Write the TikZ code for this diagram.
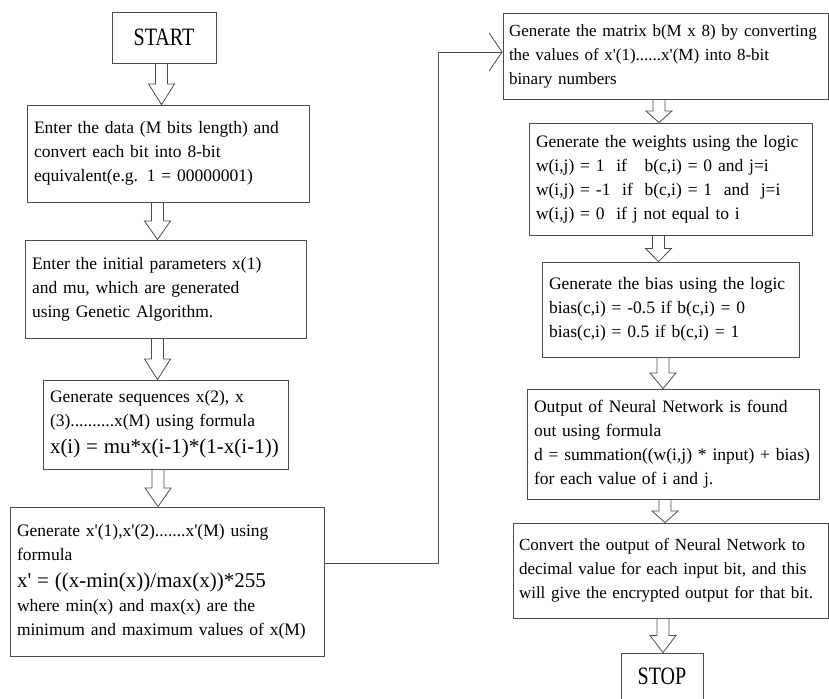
\documentclass[tikz,border=0pt]{standalone}
\usepackage{fontspec}
\setmainfont{Liberation Serif}[Ligatures=TeXOff]
\newfontfamily\termfont{Liberation Serif}[FakeStretch=0.8]
\usetikzlibrary{arrows.meta, calc}

\tikzset{
  stage/.style={draw=black!70, line width=0.8pt, align=left, inner xsep=7pt,
    font=\fontsize{17.5}{24}\selectfont},
  widestage/.style={stage, inner xsep=6pt, font=\fontsize{17}{24}\selectfont},
  terminal/.style={draw=black!70, line width=0.8pt, font=\termfont\fontsize{25}{30}\selectfont},
  blockarrow/.style={draw=black!70, line width=0.8pt,
    to path={let \p1=(\tikztostart), \p2=(\tikztotarget), \p3=($(\p1)!0.5!(\p2)$) in
      (\x1-6pt,\y1) -- (\x1-6pt,\y3) -- (\x1-13pt,\y3) -- (\x1,\y2)
      -- (\x1+13pt,\y3) -- (\x1+6pt,\y3) -- (\x1+6pt,\y1)}},
  link/.style={draw=black!70, line width=0.8pt, -{Straight Barb[length=13pt,width=38pt]}}
}
\newcommand{\formula}[1]{{\fontsize{21}{28}\selectfont #1}}

\begin{document}
\begin{tikzpicture}[x=1pt, y=-1pt]
\useasboundingbox (0,0) rectangle (829,698);

% left column
\node[terminal, minimum width=104, minimum height=51] (start) at (164,37.5) {START};
\node[stage, minimum width=282, minimum height=97, text width=268] (data) at (168,153.5)
  {Enter the data (M bits length) and\\ convert each bit into 8-bit\\ equivalent(e.g. 1 = 00000001)};
\node[stage, minimum width=281, minimum height=98, text width=267] (param) at (165.5,289)
  {Enter the initial parameters x(1)\\ and mu, which are generated\\ using Genetic Algorithm.};
\node[stage, minimum width=245, minimum height=89, text width=231] (seq) at (165.5,424.5)
  {Generate sequences x(2), x\\ (3)..........x(M) using formula\\[3pt] \formula{x(i) = mu*x(i-1)*(1-x(i-1))}};
\node[stage, minimum width=314, minimum height=149, text width=300] (norm) at (167,581.5)
  {Generate x'(1),x'(2).......x'(M) using\\ formula\\[3pt] \formula{x' = ((x-min(x))/max(x))*255}\\ where min(x) and max(x) are the\\ minimum and maximum values of x(M)};

% right column
\node[widestage, minimum width=325, minimum height=86, text width=313] (matrix) at (665.5,56)
  {Generate the matrix b(M x 8) by converting\\ the values of x'(1)......x'(M) into 8-bit\\ binary numbers};
\node[stage, minimum width=283, minimum height=112, text width=269] (weights) at (670.5,179)
  {Generate the weights using the logic\\ w(i,j) = 1\ \ if\ \ \ b(c,i) = 0 and j=i\\ w(i,j) = -1\ \ if\ \ b(c,i) = 1\ \ and\ \ j=i\\ w(i,j) = 0\ \ if j not equal to i};
\node[stage, minimum width=257, minimum height=95, text width=243] (bias) at (670.5,309.5)
  {Generate the bias using the logic\\ bias(c,i) = -0.5 if b(c,i) = 0\\ bias(c,i) = 0.5 if b(c,i) = 1};
\node[stage, minimum width=292, minimum height=110, text width=278] (output) at (673,444)
  {Output of Neural Network is found\\ out using formula\\ d = summation((w(i,j) * input) + bias)\\ for each value of i and j.};
\node[widestage, minimum width=315, minimum height=95, text width=303] (convert) at (670.5,570.5)
  {Convert the output of Neural Network to\\ decimal value for each input bit, and this\\ will give the encrypted output for that bit.};
\node[terminal, minimum width=82, minimum height=47] (stop) at (662,676.5) {STOP};

% block arrows
\draw[blockarrow] ([xshift=-2.5]start.south) to (data.north);
\draw[blockarrow] ([xshift=-10.5]data.south) to (param.north);
\draw[blockarrow] ([xshift=-8]param.south) to (seq.north);
\draw[blockarrow] ([xshift=-7.5]seq.south) to (norm.north);
\draw[blockarrow] ([xshift=-6.5]matrix.south) to (weights.north);
\draw[blockarrow] ([xshift=-12]weights.south) to (bias.north);
\draw[blockarrow] ([xshift=-7.5]bias.south) to (output.north);
\draw[blockarrow] ([xshift=-8]output.south) to (convert.north);
\draw[blockarrow] ([xshift=-7.5]convert.south) to (stop.north);

% jump to the second column
\draw[link] ([yshift=18.5]norm.east) -- ++(114,0) |- ([yshift=4]matrix.west);
\end{tikzpicture}
\end{document}
